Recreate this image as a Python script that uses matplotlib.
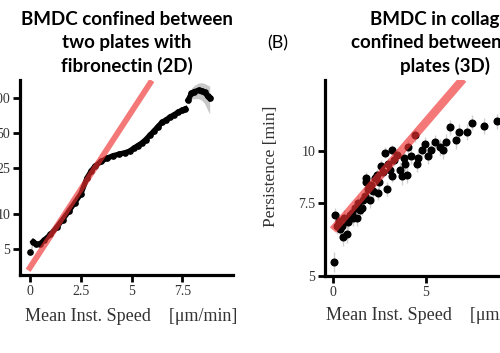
import numpy as np
import matplotlib.pyplot as plt
from matplotlib.ticker import NullLocator

# left panel: BMDC 2D, mean persistence vs speed (log y)
speed_2d = [0.0, 0.15, 0.3, 0.5, 0.7, 1.0, 1.3, 1.6, 1.9, 2.2, 2.5, 2.8, 3.0, 3.2,
            3.5, 3.8, 4.1, 4.4, 4.7, 4.9, 5.1, 5.3, 5.5, 5.7, 5.9, 6.1, 6.3, 6.5,
            6.7, 6.9, 7.1, 7.3, 7.5, 7.65]
pers_2d = [4.7, 5.8, 5.5, 5.6, 6.0, 6.7, 7.7, 9.0, 10.6, 12.6, 15.0, 20.5, 23.5, 26,
           28.5, 30.5, 32, 33, 34, 35, 37, 39, 41, 44, 48, 52, 57, 62,
           65, 69, 72, 76, 79, 81]
err_2d = [0.3, 0.3, 0.3, 0.3, 0.3, 0.3, 0.3, 0.4, 0.4, 0.5, 0.5, 0.6, 0.7, 0.7,
          0.8, 0.8, 0.9, 0.9, 1.0, 1.0, 1.1, 1.1, 1.2, 1.3, 1.5, 1.7, 2.0, 2.3,
          2.6, 3.0, 3.5, 4.0, 4.5, 5.0]
speed_2d_end = [7.8, 7.95, 8.1, 8.3, 8.45, 8.6, 8.75, 8.85]
pers_2d_end = [97, 110, 114, 117, 116, 112, 104, 100]
err_2d_end = [9, 12, 15, 18, 20, 22, 25, 27]
fit_2d = (3.5, 0.268)   # y = a * 10**(b*x)

# right panel: BMDC 3D
speed_3d = [0.05, 0.1, 0.2, 0.3, 0.4, 0.5, 0.55, 0.6, 0.75, 0.8, 0.9, 1.0, 1.1, 1.2,
            1.3, 1.35, 1.45, 1.55, 1.6, 1.7, 1.75, 1.8, 1.9, 2.0, 2.05, 2.15, 2.25,
            2.35, 2.4, 2.5, 2.6, 2.7, 2.8, 2.9, 2.95, 3.05, 3.15, 3.2, 3.3, 3.45,
            3.6, 3.7, 3.8, 3.9, 4.0, 4.05, 4.2, 4.4, 4.5, 4.6, 4.8, 4.95, 5.1, 5.3,
            5.5, 5.75, 5.9, 6.1, 6.3, 6.6, 6.8, 7.2, 7.5, 8.1, 8.8]
pers_3d = [5.4, 7.0, 6.6, 6.8, 6.5, 6.6, 6.2, 6.9, 6.3, 6.75, 7.0, 7.1, 6.9, 7.3,
           6.9, 7.5, 7.2, 7.3, 7.6, 7.8, 8.4, 8.6, 8.1, 7.6, 8.3, 8.0, 8.6,
           8.75, 7.9, 8.4, 9.2, 8.9, 9.9, 8.1, 9.3, 9.0, 10.05, 8.7, 9.5, 9.8,
           9.0, 8.7, 9.6, 9.3, 8.75, 10.2, 9.7, 10.9, 9.3, 9.6, 10.05, 10.4, 9.7, 10.05,
           10.5, 10.2, 10.05, 10.5, 11.4, 10.6, 11.1, 11.1, 11.7, 11.5, 11.8]
err_3d = [0.3] * 40 + [0.4] * 15 + [0.5] * 10
fit_3d = (6.45, 0.0519)

serif = 'Liberation Serif'
sans = 'Lato'
red = '#f03030'

fig = plt.figure(figsize=(5, 3.53), dpi=100)
ax1 = fig.add_axes([0.04, 0.221, 0.426, 0.552])
ax2 = fig.add_axes([0.65, 0.218, 0.462, 0.555])

# ---- left
lo = [p - e for p, e in zip(pers_2d, err_2d)]
hi = [p + e for p, e in zip(pers_2d, err_2d)]
ax1.fill_between(speed_2d, lo, hi, color='#c8c8c8', lw=0)
lo = [p - e for p, e in zip(pers_2d_end, err_2d_end)]
hi = [p + e for p, e in zip(pers_2d_end, err_2d_end)]
ax1.fill_between(speed_2d_end, lo, hi, color='#c8c8c8', lw=0)
ax1.plot(speed_2d[1:], pers_2d[1:], color='black', lw=3.8, marker='o', ms=3.8)
ax1.plot(speed_2d[:1], pers_2d[:1], 'ko', ms=3.8)
ax1.plot(speed_2d_end, pers_2d_end, color='black', lw=3.8, marker='o', ms=3.8)
xf = np.array([-0.1, 6.0])
ax1.plot(xf, fit_2d[0] * 10 ** (fit_2d[1] * xf), color=red, lw=4.2, alpha=0.65,
         solid_capstyle='butt')
ax1.set_yscale('log')
ax1.set_xlim(-0.5, 10)
ax1.set_ylim(3, 143)
ax1.set_yticks([5, 10, 25, 50, 100], ['5', '10', '25', '50', '100'])
ax1.set_xticks([0, 2.5, 5, 7.5], ['0', '2.5', '5', '7.5'])

# ---- right
ax2.errorbar(speed_3d, pers_3d, yerr=err_3d, fmt='o', color='black', ms=4.8,
             ecolor='#d0d0d0', elinewidth=1, capsize=0, zorder=2)
xf = np.array([0.0, 7.0])
ax2.plot(xf, fit_3d[0] * 10 ** (fit_3d[1] * xf), color=red, lw=6, alpha=0.65,
         solid_capstyle='butt', zorder=3)
ax2.set_yscale('log')
ax2.set_xlim(-0.43, 12)
ax2.set_ylim(5, 14.8)
ax2.set_yticks([5, 7.5, 10], ['5', '7.5', '10'])
ax2.set_xticks([0, 5, 10], ['0', '5', '10'])
ax2.set_ylabel('Persistence [min]', fontfamily=serif, fontsize=12.5, color='#333333')
ax2.yaxis.set_label_coords(-0.2, 0.56)

for ax in (ax1, ax2):
    ax.yaxis.set_minor_locator(NullLocator())
    ax.spines[['top', 'right']].set_visible(False)
    for s in ('left', 'bottom'):
        ax.spines[s].set_linewidth(2.3)
    ax.tick_params(width=2, length=5, pad=2, labelsize=10, labelcolor='#333333')
    for lab in ax.get_xticklabels() + ax.get_yticklabels():
        lab.set_fontfamily(serif)
    ax.set_xlabel('Mean Inst. Speed    [\u03bcm/min]', fontfamily=serif,
                  fontsize=13, color='#333333')

ax1.xaxis.set_label_coords(0.52, -0.17)
ax2.xaxis.set_label_coords(0.465, -0.16)

fig.text(0.254, 0.878, 'BMDC confined between\ntwo plates with\nfibronectin (2D)',
         ha='center', va='center', fontfamily=sans, fontweight='bold', fontsize=13.5,
         linespacing=1.4)
fig.text(0.89, 0.878, 'BMDC in collagen\nconfined between two\nplates (3D)',
         ha='center', va='center', fontfamily=sans, fontweight='bold', fontsize=13.5,
         linespacing=1.4)
fig.text(0.556, 0.878, '(B)', ha='center', va='center', fontfamily=sans, fontsize=13)

fig.savefig('out.png', dpi=100)
